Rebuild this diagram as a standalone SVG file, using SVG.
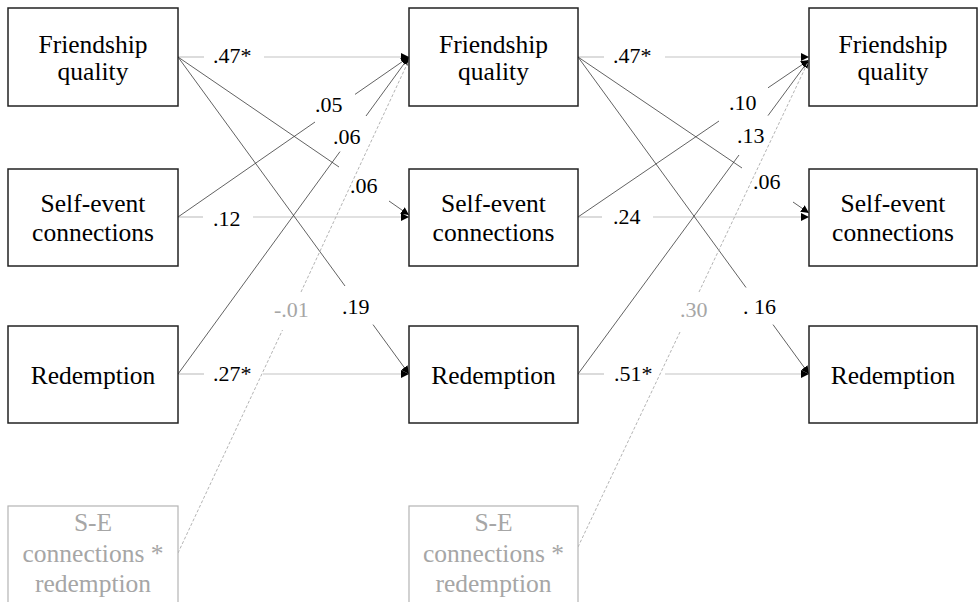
<svg xmlns="http://www.w3.org/2000/svg" width="978" height="602" viewBox="0 0 978 602">
<style>
.box{fill:#fff;stroke:#222;stroke-width:1.5}
.gbox{fill:#fff;stroke:#b4b4b4;stroke-width:1.2}
.t{font-size:25.5px;fill:#000;text-anchor:middle}
.gt{font-size:25.5px;fill:#a6a6a6;text-anchor:middle}
.l{font-size:22px;fill:#000}
.gl{font-size:22px;fill:#a6a6a6}
.h{fill:none;stroke:#c4c4c4;stroke-width:1.2}
.d{fill:none;stroke:#3a3a3a;stroke-width:0.8}
.dot{fill:none;stroke:#b4b4b4;stroke-width:1;stroke-dasharray:3 2}
</style>
<defs>
<marker id="arr" markerUnits="userSpaceOnUse" markerWidth="9" markerHeight="9" refX="8" refY="4" orient="auto">
<path d="M0,0 L8,4 L0,8 Z" fill="#000"/>
</marker>
</defs>
<rect width="978" height="602" fill="#fff"/>
<g id="connectors">
<path class="h" d="M178,57 L204,57"/><path class="h" d="M264,57 L409,57" marker-end="url(#arr)"/>
<path class="h" d="M178,217 L203,217"/><path class="h" d="M253,217 L409,217" marker-end="url(#arr)"/>
<path class="h" d="M178,374 L204,374"/><path class="h" d="M263,374 L409,374" marker-end="url(#arr)"/>
<path class="d" d="M178,57 L339,167"/><path class="d" d="M389,201 L409,215" marker-end="url(#arr)"/>
<path class="d" d="M178,57 L345,286"/><path class="d" d="M373,324.6 L409,374" marker-end="url(#arr)"/>
<path class="d" d="M178,217 L315,122"/><path class="d" d="M355,94.4 L409,57" marker-end="url(#arr)"/>
<path class="d" d="M178,374 L340,151.6"/><path class="d" d="M366,116 L409,57" marker-end="url(#arr)"/>
<path class="dot" d="M178,553 L282.5,330"/><path class="dot" d="M301,292 L409,60"/>
<path class="h" d="M578,57 L604,57"/><path class="h" d="M665,57 L809,57" marker-end="url(#arr)"/>
<path class="h" d="M578,217 L602,217"/><path class="h" d="M653,217 L809,217" marker-end="url(#arr)"/>
<path class="h" d="M578,374 L604,374"/><path class="h" d="M665,374 L809,374" marker-end="url(#arr)"/>
<path class="d" d="M578,57 L742,168"/><path class="d" d="M793,202 L809,213" marker-end="url(#arr)"/>
<path class="d" d="M578,57 L746,287.5"/><path class="d" d="M773,324.6 L809,374" marker-end="url(#arr)"/>
<path class="d" d="M578,217 L719,121"/><path class="d" d="M768,87.8 L809,60" marker-end="url(#arr)"/>
<path class="d" d="M578,374 L739,155"/><path class="d" d="M768,115.6 L809,60" marker-end="url(#arr)"/>
<path class="dot" d="M578,547 L680,332"/><path class="dot" d="M699,292 L809,60"/>
</g>
<g font-family="Liberation Serif, Times New Roman, serif">
<g id="labels">
<text class="l" x="213" y="63">.47*</text>
<text class="l" x="315" y="112">.05</text>
<text class="l" x="333" y="144">.06</text>
<text class="l" x="350" y="193">.06</text>
<text class="l" x="213" y="226">.12</text>
<text class="gl" x="274" y="317">-.01</text>
<text class="l" x="342" y="314">.19</text>
<text class="l" x="213" y="381">.27*</text>
<text class="l" x="613" y="63">.47*</text>
<text class="l" x="729" y="110">.10</text>
<text class="l" x="737" y="143">.13</text>
<text class="l" x="753" y="189">.06</text>
<text class="l" x="613" y="224">.24</text>
<text class="gl" x="680" y="317">.30</text>
<text class="l" x="743" y="314">. 16</text>
<text class="l" x="614" y="381">.51*</text>
</g>
<g id="fq1"><rect class="box" x="8" y="8" width="170" height="98"/><text class="t" x="93" y="53">Friendship</text><text class="t" x="93" y="80">quality</text></g>
<g id="se1"><rect class="box" x="8" y="169" width="170" height="97"/><text class="t" x="93" y="212">Self-event</text><text class="t" x="93" y="241">connections</text></g>
<g id="red1"><rect class="box" x="8" y="326" width="170" height="97"/><text class="t" x="93" y="384">Redemption</text></g>
<g id="int1"><rect class="gbox" x="8" y="506" width="170" height="100"/><text class="gt" x="93" y="531">S-E</text><text class="gt" x="93" y="562">connections *</text><text class="gt" x="93" y="592">redemption</text></g>
<g id="fq2"><rect class="box" x="409" y="8" width="169" height="98"/><text class="t" x="493.5" y="53">Friendship</text><text class="t" x="493.5" y="80">quality</text></g>
<g id="se2"><rect class="box" x="409" y="169" width="169" height="97"/><text class="t" x="493.5" y="212">Self-event</text><text class="t" x="493.5" y="241">connections</text></g>
<g id="red2"><rect class="box" x="409" y="326" width="169" height="97"/><text class="t" x="493.5" y="384">Redemption</text></g>
<g id="int2"><rect class="gbox" x="409" y="506" width="169" height="100"/><text class="gt" x="493.5" y="531">S-E</text><text class="gt" x="493.5" y="562">connections *</text><text class="gt" x="493.5" y="592">redemption</text></g>
<g id="fq3"><rect class="box" x="809" y="8" width="168" height="98"/><text class="t" x="893" y="53">Friendship</text><text class="t" x="893" y="80">quality</text></g>
<g id="se3"><rect class="box" x="809" y="169" width="168" height="97"/><text class="t" x="893" y="212">Self-event</text><text class="t" x="893" y="241">connections</text></g>
<g id="red3"><rect class="box" x="809" y="326" width="168" height="97"/><text class="t" x="893" y="384">Redemption</text></g>
</g>
</svg>
